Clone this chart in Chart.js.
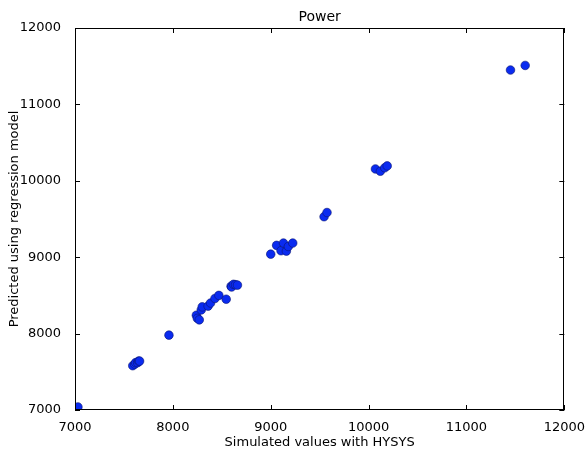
<!DOCTYPE html>
<html>
<head>
<meta charset="utf-8">
<title>Power</title>
<script src="https://cdn.jsdelivr.net/npm/chart.js@4/dist/chart.umd.min.js"></script>
<style>
    html, body { margin: 0; padding: 0; background: #fff; }
    #wrap { width: 587px; height: 450px; }
</style>
</head>
<body>
<div id="wrap"><canvas id="powerChart" width="587" height="450"></canvas></div>
<script>
// Simulated (HYSYS) vs predicted power values
const simulated = [
    7030, 7590, 7610, 7620, 7640, 7650, 7660, 7960,
    8240, 8250, 8270, 8290, 8300, 8360, 8385, 8430, 8470, 8545, 8595, 8600, 8620, 8640, 8660,
    9000, 9060, 9105, 9130, 9160, 9180, 9225, 9545, 9575,
    10070, 10120, 10165, 10190, 11450, 11600
];
const predicted = [
    7040, 7580, 7600, 7620, 7620, 7640, 7640, 7980,
    8240, 8200, 8180, 8310, 8350, 8360, 8400, 8460, 8500, 8450, 8620, 8610, 8645, 8640, 8635,
    9040, 9155, 9085, 9185, 9080, 9140, 9185, 9530, 9585,
    10155, 10125, 10170, 10195, 11450, 11510
];
const xTicks = [7000, 8000, 9000, 10000, 11000, 12000];
const yTicks = [7000, 8000, 9000, 10000, 11000, 12000];
const chartTitle = 'Power';

const points = simulated.map((x, i) => ({ x: x, y: predicted[i] }));

const fontFamily = "'DejaVu Sans', sans-serif";

// Draw the full axes box, inward tick marks on all four sides, and the title over the plot
const frameBox = {
    id: 'frameBox',
    afterDraw(chart) {
        const ctx = chart.ctx;
        const a = chart.chartArea;
        const xs = chart.scales.x;
        const ys = chart.scales.y;
        ctx.save();
        ctx.strokeStyle = '#000';
        ctx.lineWidth = 1;
        ctx.strokeRect(Math.round(a.left) + 0.5, Math.round(a.top) + 0.5,
            Math.round(a.right - a.left) - 1, Math.round(a.bottom - a.top) - 1);
        ctx.beginPath();
        xTicks.forEach(v => {
            const px = Math.round(xs.getPixelForValue(v)) + 0.5;
            ctx.moveTo(px, a.bottom); ctx.lineTo(px, a.bottom - 5);
            ctx.moveTo(px, a.top); ctx.lineTo(px, a.top + 5);
        });
        yTicks.forEach(v => {
            const py = Math.round(ys.getPixelForValue(v)) + 0.5;
            ctx.moveTo(a.left, py); ctx.lineTo(a.left + 5, py);
            ctx.moveTo(a.right, py); ctx.lineTo(a.right - 5, py);
        });
        ctx.stroke();

        ctx.fillStyle = '#000';
        ctx.font = '14px ' + fontFamily;
        ctx.textAlign = 'center';
        ctx.textBaseline = 'middle';
        ctx.fillText(chartTitle, (a.left + a.right) / 2, a.top - 11);
        ctx.restore();
    }
};

new Chart(document.getElementById('powerChart'), {
    type: 'scatter',
    data: {
        datasets: [{
            data: points,
            backgroundColor: '#0a2bf0',
            borderColor: '#0a1470',
            borderWidth: 0.6,
            pointRadius: 4.3,
            pointHoverRadius: 4.3
        }]
    },
    options: {
        responsive: false,
        animation: false,
        layout: { padding: { left: 0, right: 18, top: 28, bottom: 0 } },
        plugins: {
            legend: { display: false },
            tooltip: { enabled: false },
            title: { display: false }
        },
        scales: {
            x: {
                type: 'linear',
                min: 7000,
                max: 12000,
                afterBuildTicks(scale) { scale.ticks = xTicks.map(v => ({ value: v })); },
                afterFit(scale) { scale.height = 40; },
                grid: { display: false },
                border: { display: false },
                ticks: {
                    color: '#000',
                    font: { family: fontFamily, size: 13 },
                    padding: 2,
                    maxRotation: 0,
                    callback: v => String(v)
                },
                title: {
                    display: true,
                    text: 'Simulated values with HYSYS',
                    color: '#000',
                    font: { family: fontFamily, size: 13 },
                    padding: { top: 3, bottom: 0 }
                }
            },
            y: {
                type: 'linear',
                min: 7000,
                max: 12000,
                afterBuildTicks(scale) { scale.ticks = yTicks.map(v => ({ value: v })); },
                afterFit(scale) { scale.width = 75; },
                grid: { display: false },
                border: { display: false },
                ticks: {
                    color: '#000',
                    font: { family: fontFamily, size: 13 },
                    padding: 6,
                    callback: v => String(v)
                },
                title: {
                    display: true,
                    text: 'Predicted using regression model',
                    color: '#000',
                    font: { family: fontFamily, size: 13 },
                    padding: { top: 7, bottom: 4 }
                }
            }
        }
    },
    plugins: [frameBox]
});
</script>
</body>
</html>
